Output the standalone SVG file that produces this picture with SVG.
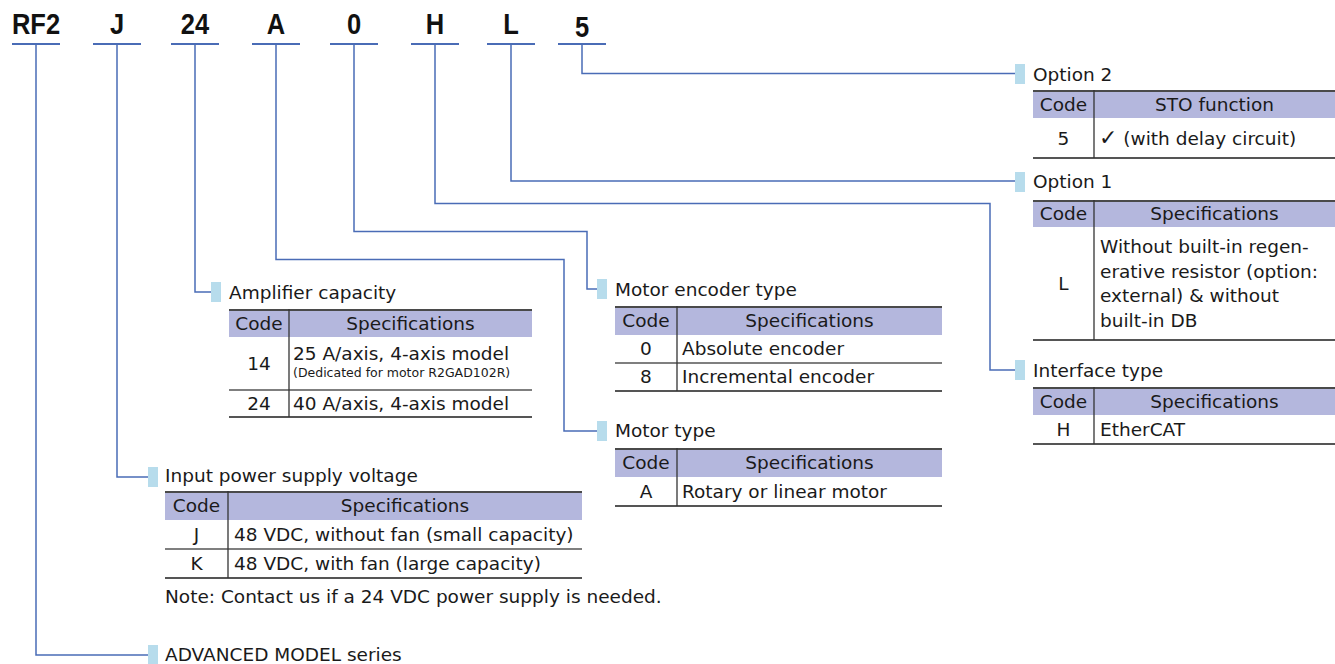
<svg xmlns="http://www.w3.org/2000/svg" width="1335" height="664" viewBox="0 0 1335 664">
<style>
.bg{fill:#ffffff}
.code{font-family:"Liberation Sans",Arial,sans-serif;font-weight:bold;font-size:30px;fill:#111;text-anchor:middle}
.ul{stroke:#4a6cb6;stroke-width:2.2;fill:none}
.con{stroke:#4a6cb6;stroke-width:1.5;fill:none}
.sq{fill:#b7dcec}
.t{font-family:"DejaVu Sans","Liberation Sans",sans-serif;font-size:18.5px;fill:#1a1a1a}
.c{text-anchor:middle}
.sm{font-size:12.5px}
.hd{fill:#b4b7dd}
.top{stroke:#4a4a4a;stroke-width:2;fill:none}
.row{stroke:#555;stroke-width:1.3;fill:none}
.bot{stroke:#555;stroke-width:1.8;fill:none}
.div{stroke:#333;stroke-width:1.3;fill:none}
</style>
<rect class="bg" x="0" y="0" width="1335" height="664"/>

<g id="model-code">
<text class="code" transform="translate(36,34) scale(0.85,1)">RF2</text>
<text class="code" transform="translate(117,34) scale(0.85,1)">J</text>
<text class="code" transform="translate(195,34) scale(0.85,1)">24</text>
<text class="code" transform="translate(276,34) scale(0.85,1)">A</text>
<text class="code" transform="translate(354,34) scale(0.85,1)">0</text>
<text class="code" transform="translate(435,34) scale(0.85,1)">H</text>
<text class="code" transform="translate(511,34) scale(0.85,1)">L</text>
<text class="code" transform="translate(582,37) scale(0.85,1)">5</text>
<path class="ul" d="M12 44H60M93 44H141M171 44H219M252 44H300M330 44H378M411 44H459M487 44H535M558 44H606"/>
</g>

<g id="connectors">
<path class="con" d="M36 44V655H148"/>
<path class="con" d="M117 44V477H148"/>
<path class="con" d="M195 44V292H211"/>
<path class="con" d="M276 44V259.5H564V431H597"/>
<path class="con" d="M354 44V231.5H587V289H597"/>
<path class="con" d="M435 44V203.5H990V370H1015"/>
<path class="con" d="M511 44V181H1015"/>
<path class="con" d="M582 44V73.5H1015"/>
</g>

<g id="option2">
<rect class="sq" x="1015" y="64" width="10" height="20"/>
<text class="t" x="1033" y="81">Option 2</text>
<rect class="hd" x="1033" y="90" width="302" height="28"/>
<path class="top" d="M1033 91H1335"/>
<path class="bot" d="M1033 158H1335"/>
<path class="div" d="M1094 90V158"/>
<text class="t c" x="1063.5" y="111">Code</text>
<text class="t c" x="1214.5" y="111">STO function</text>
<text class="t c" x="1063.5" y="145">5</text>
<text class="t" x="1099" y="145"><tspan font-size="22px">✓</tspan> (with delay circuit)</text>
</g>

<g id="option1">
<rect class="sq" x="1015" y="172" width="10" height="20"/>
<text class="t" x="1033" y="188">Option 1</text>
<rect class="hd" x="1033" y="200" width="302" height="27"/>
<path class="top" d="M1033 201H1335"/>
<path class="bot" d="M1033 340H1335"/>
<path class="div" d="M1094 200V340"/>
<text class="t c" x="1063.5" y="220">Code</text>
<text class="t c" x="1214.5" y="220">Specifications</text>
<text class="t c" x="1063.5" y="290">L</text>
<text class="t" x="1100" y="253">Without built-in regen-</text>
<text class="t" x="1100" y="277.5">erative resistor (option:</text>
<text class="t" x="1100" y="302">external) &amp; without</text>
<text class="t" x="1100" y="326.5">built-in DB</text>
</g>

<g id="interface">
<rect class="sq" x="1015" y="360" width="10" height="20"/>
<text class="t" x="1033" y="377">Interface type</text>
<rect class="hd" x="1033" y="387" width="302" height="28"/>
<path class="top" d="M1033 388H1335"/>
<path class="bot" d="M1033 444H1335"/>
<path class="div" d="M1094 387V444"/>
<text class="t c" x="1063.5" y="408">Code</text>
<text class="t c" x="1214.5" y="408">Specifications</text>
<text class="t c" x="1063.5" y="436">H</text>
<text class="t" x="1100" y="436">EtherCAT</text>
</g>

<g id="encoder">
<rect class="sq" x="597" y="279" width="10" height="20"/>
<text class="t" x="615" y="296">Motor encoder type</text>
<rect class="hd" x="615" y="306" width="327" height="29"/>
<path class="top" d="M615 307H942"/>
<path class="row" d="M615 363H942"/>
<path class="bot" d="M615 391H942"/>
<path class="div" d="M677 306V391"/>
<text class="t c" x="646" y="327">Code</text>
<text class="t c" x="809.5" y="327">Specifications</text>
<text class="t c" x="646" y="355">0</text>
<text class="t" x="682" y="355">Absolute encoder</text>
<text class="t c" x="646" y="383">8</text>
<text class="t" x="682" y="383">Incremental encoder</text>
</g>

<g id="motor">
<rect class="sq" x="597" y="421" width="10" height="20"/>
<text class="t" x="615" y="437">Motor type</text>
<rect class="hd" x="615" y="448" width="327" height="29"/>
<path class="top" d="M615 449H942"/>
<path class="bot" d="M615 506H942"/>
<path class="div" d="M677 448V506"/>
<text class="t c" x="646" y="469">Code</text>
<text class="t c" x="809.5" y="469">Specifications</text>
<text class="t c" x="646" y="498">A</text>
<text class="t" x="682" y="498">Rotary or linear motor</text>
</g>

<g id="amplifier">
<rect class="sq" x="211" y="282" width="10" height="20"/>
<text class="t" x="229" y="299">Amplifier capacity</text>
<rect class="hd" x="229" y="309" width="303" height="28"/>
<path class="top" d="M229 310H532"/>
<path class="row" d="M229 390H532"/>
<path class="bot" d="M229 417H532"/>
<path class="div" d="M289 309V417"/>
<text class="t c" x="259" y="330">Code</text>
<text class="t c" x="410.5" y="330">Specifications</text>
<text class="t c" x="259" y="370">14</text>
<text class="t" x="293" y="360">25 A/axis, 4-axis model</text>
<text class="t sm" x="293" y="377">(Dedicated for motor R2GAD102R)</text>
<text class="t c" x="259" y="410">24</text>
<text class="t" x="293" y="410">40 A/axis, 4-axis model</text>
</g>

<g id="input">
<rect class="sq" x="148" y="467" width="10" height="20"/>
<text class="t" x="165" y="482">Input power supply voltage</text>
<rect class="hd" x="165" y="491" width="417" height="29"/>
<path class="top" d="M165 492H582"/>
<path class="row" d="M165 549H582"/>
<path class="bot" d="M165 578H582"/>
<path class="div" d="M228 491V578"/>
<text class="t c" x="196.5" y="512">Code</text>
<text class="t c" x="405" y="512">Specifications</text>
<text class="t c" x="196.5" y="541">J</text>
<text class="t" x="234" y="541">48 VDC, without fan (small capacity)</text>
<text class="t c" x="196.5" y="570">K</text>
<text class="t" x="234" y="570">48 VDC, with fan (large capacity)</text>
<text class="t" x="165" y="603">Note: Contact us if a 24 VDC power supply is needed.</text>
</g>

<g id="series">
<rect class="sq" x="148" y="645" width="10" height="19"/>
<text class="t" x="165" y="661">ADVANCED MODEL series</text>
</g>
</svg>
